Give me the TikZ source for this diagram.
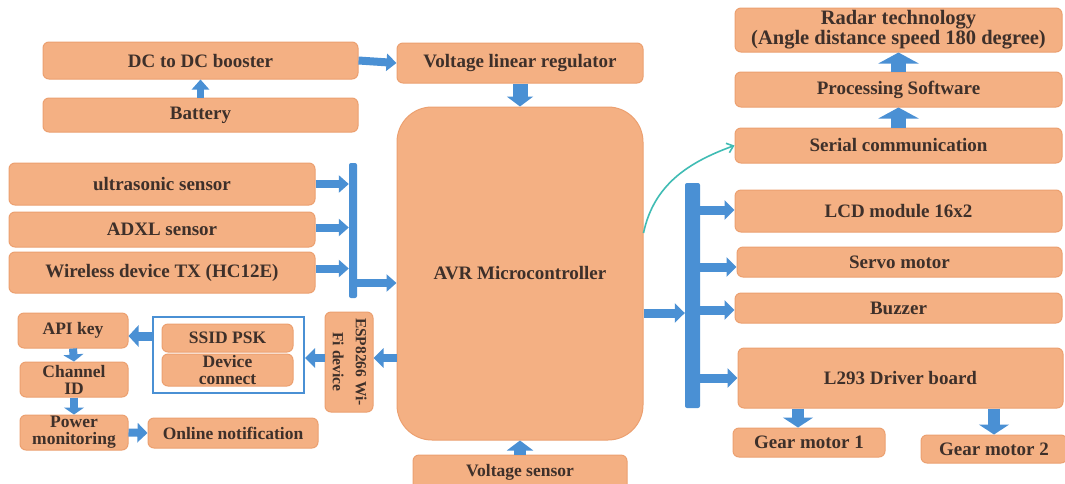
\documentclass[tikz,border=0pt]{standalone}
\usepackage{fontspec}
\setmainfont{Liberation Serif}[BoldFont={Liberation Serif Bold}]
\usepackage{graphicx}
\usepackage{xcolor}
\usetikzlibrary{arrows.meta,calc}

\definecolor{boxfill}{RGB}{244,176,131}
\definecolor{boxline}{RGB}{236,160,112}
\definecolor{flowblue}{RGB}{74,144,212}
\definecolor{txtbrown}{RGB}{62,48,42}
\definecolor{linkteal}{RGB}{64,188,180}

\tikzset{
  blk/.style={rectangle, rounded corners=6pt, fill=boxfill, draw=boxline, line width=1pt,
    text=txtbrown, align=center, inner sep=0pt, font=\fontsize{19}{20}\selectfont\bfseries},
  blks/.style={blk, font=\fontsize{17.5}{17}\selectfont\bfseries},
  busbar/.style={rectangle, fill=flowblue, rounded corners=2pt, inner sep=0pt},
  flow/.style={draw=flowblue, line width=8pt, -{Triangle[length=10pt,width=17pt]}},
  flowm/.style={draw=flowblue, line width=13pt, -{Triangle[length=10pt,width=26pt]}},
  flowl/.style={draw=flowblue, line width=15pt, -{Triangle[length=11pt,width=40pt]}}
}

\begin{document}
\begin{tikzpicture}[x=1pt, y=-1pt]
\clip (0,0) rectangle (1065,483);
\fill[white] (0,0) rectangle (1065,483);

% power supply
\node[blk, minimum width=315pt, minimum height=37pt] (dcb) at (200.5,60.5) {DC to DC booster};
\node[blk, minimum width=315pt, minimum height=34pt] (bat) at (200.5,115) {Battery};
\node[blk, minimum width=246pt, minimum height=40pt] (vlr) at (520,63) {Voltage linear regulator};

% controller
\node[blk, rounded corners=35pt, minimum width=246pt, minimum height=333pt] (avr) at (520,273.5) {AVR Microcontroller};
\node[blks, minimum width=214pt, minimum height=35pt] (vsen) at (520,472.5) {Voltage sensor};

% input sensors
\node[blk, minimum width=306pt, minimum height=42pt] (us) at (162,184) {ultrasonic sensor};
\node[blk, minimum width=306pt, minimum height=35pt] (adxl) at (162,229.5) {ADXL sensor};
\node[blk, minimum width=306pt, minimum height=41pt] (wl) at (162,272.5) {Wireless device TX (HC12E)};
\node[busbar, minimum width=8pt, minimum height=135pt] (lbar) at (353,230.5) {};

% wifi path
\node[blks, minimum width=110pt, minimum height=35pt] (api) at (73,330.5) {API key};
\node[blks, minimum width=108pt, minimum height=35pt] (chid) at (74,379.5) {Channel\\ID};
\node[blks, minimum width=108pt, minimum height=35pt] (pwr) at (74,432.5) {Power\\monitoring};
\node[blks, minimum width=170pt, minimum height=30pt] (onl) at (233,433) {Online notification};
\node[draw=flowblue, line width=2pt, minimum width=151pt, minimum height=76pt, inner sep=0pt] (wifi) at (228.5,355) {};
\node[blks, minimum width=131pt, minimum height=28pt] (ssid) at (227.5,338) {SSID PSK};
\node[blks, minimum width=131pt, minimum height=32pt] (dev) at (227.5,370) {Device\\connect};
\node[blk, minimum width=48pt, minimum height=100pt, font=\fontsize{15.5}{23}\selectfont\bfseries] (esp) at (349,362)
  {\rotatebox{-90}{\begin{tabular}{@{}c@{}}ESP8266 Wi-\\Fi device\end{tabular}}};

% radar chain
\node[blk, minimum width=327pt, minimum height=44pt, font=\fontsize{20.5}{20}\selectfont\bfseries] (radar) at (898.5,30) {Radar technology\\(Angle distance speed 180 degree)};
\node[blk, minimum width=327pt, minimum height=35pt] (proc) at (898.5,89.5) {Processing Software};
\node[blk, minimum width=327pt, minimum height=35pt] (ser) at (898.5,145.5) {Serial communication};

% outputs
\node[busbar, minimum width=15pt, minimum height=225pt] (rbar) at (692.5,295.5) {};
\node[blk, minimum width=327pt, minimum height=42pt] (lcd) at (898.5,211) {LCD module 16x2};
\node[blk, minimum width=325pt, minimum height=30pt] (servo) at (899.5,262) {Servo motor};
\node[blk, minimum width=327pt, minimum height=30pt] (buz) at (898.5,308) {Buzzer};
\node[blk, minimum width=325pt, minimum height=60pt] (l293) at (900.5,378) {L293 Driver board};
\node[blk, minimum width=152pt, minimum height=29pt] (gm1) at (809,442.5) {Gear motor 1};
\node[blk, minimum width=146pt, minimum height=28pt] (gm2) at (994,449) {Gear motor 2};

% arrows
\draw[flow, line width=7pt] (bat.north) -- (dcb.south);
\draw[flow] (dcb.east) -- (vlr.west);
\draw[flowm, line width=15pt] (vlr.south) -- (avr.north);
\draw[flowm, line width=12pt] (vsen.north) -- (avr.south);
\draw[flow] (us.east) -- (us.east -| lbar.west);
\draw[flow] ($(adxl.east)+(0,-2)$) -- ($(adxl.east -| lbar.west)+(0,-2)$);
\draw[flow] ($(wl.east)+(0,-4)$) -- ($(wl.east -| lbar.west)+(0,-4)$);
\draw[flow] ($(wl.east -| lbar.east)+(0,10.5)$) -- ($(wl.east -| avr.west)+(0,10.5)$);
\draw[flow, -{Triangle[length=10pt,width=19pt]}] ($(esp.east -| avr.west)+(0,-4)$) -- ($(esp.east)+(0,-4)$);
\draw[flow, -{Triangle[length=10pt,width=19pt]}] ($(esp.west)+(0,-4)$) -- ($(esp.west -| wifi.east)+(0,-4)$);
\draw[flow, line width=9pt, -{Triangle[length=10pt,width=21pt]}] ($(api.east -| wifi.west)+(0,5.5)$) -- ($(api.east)+(0,5.5)$);
\draw[flow, -{Triangle[length=7pt,width=20pt]}] (api.south) -- (chid.north);
\draw[flow, -{Triangle[length=7pt,width=20pt]}] (chid.south) -- (pwr.north);
\draw[flow, -{Triangle[length=10pt,width=19pt]}] (pwr.east) -- (onl.west);
\draw[flowl] (proc.north) -- (radar.south);
\draw[flowl] (ser.north) -- (proc.south);
\draw[flow, line width=9pt, -{Triangle[length=10pt,width=19pt]}] ($(avr.east |- buz.west)+(0,5)$) -- ($(rbar.west |- buz.west)+(0,5)$);
\draw[flow, line width=9pt, -{Triangle[length=10pt,width=19pt]}] ($(lcd.west -| rbar.east)+(0,-1)$) -- ($(lcd.west)+(0,-1)$);
\draw[flow, line width=9pt, -{Triangle[length=10pt,width=19pt]}] ($(servo.west -| rbar.east)+(0,5)$) -- ($(servo.west)+(0,5)$);
\draw[flow, line width=9pt, -{Triangle[length=10pt,width=19pt]}] ($(buz.west -| rbar.east)+(0,2)$) -- ($(buz.west)+(0,2)$);
\draw[flow, line width=9pt, -{Triangle[length=10pt,width=19pt]}] (l293.west -| rbar.east) -- (l293.west);
\draw[flowm, line width=12pt, -{Triangle[length=10pt,width=30pt]}] ($(gm1.north |- l293.south)+(-11,0)$) -- ($(gm1.north)+(-11,0)$);
\draw[flowm, line width=12pt, -{Triangle[length=10pt,width=30pt]}] (gm2.north |- l293.south) -- (gm2.north);
\draw[linkteal, line width=1.6pt, -{Straight Barb[length=6pt,width=10pt]}] ($(avr.east)+(0,-40.5)$) to[out=78, in=200] (ser.west);
\end{tikzpicture}
\end{document}
